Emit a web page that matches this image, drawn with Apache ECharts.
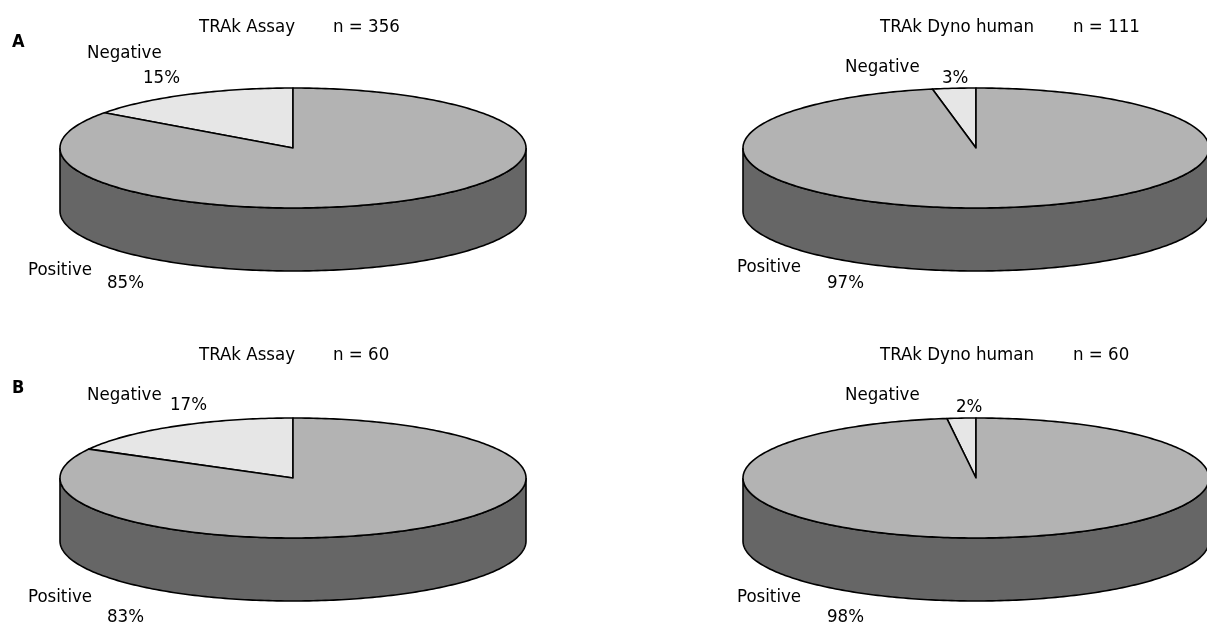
<!DOCTYPE html>
<html>
<head>
<meta charset="utf-8">
<script src="https://cdn.jsdelivr.net/npm/echarts@6/dist/echarts.min.js"></script>
<style>
  html, body { margin: 0; padding: 0; background: #fff; }
  #chart { width: 1207px; height: 626px; }
</style>
</head>
<body>
<div id="chart"></div>
<script>
// values
const panels = ['A', 'B']
const assays = ['TRAk Assay', 'TRAk Dyno human']
const sampleSizes = [356, 111, 60, 60]
const negativePct = [15, 3, 17, 2]
const positivePct = [85, 97, 83, 98]
const sliceNames = ['Negative', 'Positive']

// layout of the four pies (panel row x assay column)
const pieCenter = [[293, 148], [976, 148], [293, 478], [976, 478]]
const RX = 233
const RY = 60
const DEPTH = 63
const sliceColor = ['#e6e6e6', '#b3b3b3']
const sideColor = '#666666'
// label anchors [nameX, nameY, pctX, pctY] per pie and slice
const labelPos = [
  [[87, 53, 143, 78], [28, 270, 107, 283]],
  [[845, 67, 942, 78], [737, 267, 827, 283]],
  [[87, 395, 170, 405], [28, 597, 107, 617]],
  [[845, 395, 956, 407], [737, 597, 827, 617]]
]
const titlePos = [[199, 333, 27], [880, 1073, 27], [199, 333, 355], [880, 1073, 355]]
const FONT = '18.5px "Liberation Sans Narrow", "DejaVu Sans Condensed", sans-serif'
const BOLD = 'bold 18px "Liberation Sans Narrow", "DejaVu Sans Condensed", sans-serif'

const seriesData = []
sampleSizes.forEach((n, p) => {
  seriesData.push([p, 0, negativePct[p]])
  seriesData.push([p, 1, positivePct[p]])
})

function arc(cx, cy, a, b, dy) {
  const pts = []
  const steps = Math.max(2, Math.ceil(Math.abs(b - a)))
  for (let i = 0; i <= steps; i++) {
    const t = (a + (b - a) * i / steps) * Math.PI / 180
    pts.push([cx + RX * Math.cos(t), cy - RY * Math.sin(t) + dy])
  }
  return pts
}

function textEl(str, x, y, font) {
  return {
    type: 'text',
    style: { text: str, x: x, y: y, font: font || FONT, fill: '#000', align: 'left', verticalAlign: 'middle' }
  }
}

function renderItem(params, api) {
  const p = api.value(0)
  const s = api.value(1)
  const values = [negativePct[p], positivePct[p]]
  const total = values[0] + values[1]
  let cum = 0
  for (let i = 0; i < s; i++) cum += values[i]
  const start = 90 + cum / total * 360
  const end = 90 + (cum + values[s]) / total * 360
  const [cx, cy] = pieCenter[p]
  const children = []

  // visible front of the rim
  const a = Math.max(start, 180)
  const b = Math.min(end, 360)
  if (b > a) {
    const upper = arc(cx, cy, a, b, 0)
    const lower = arc(cx, cy, b, a, DEPTH)
    children.push({
      type: 'polygon',
      shape: { points: upper.concat(lower) },
      style: { fill: sideColor, stroke: '#000', lineWidth: 1.6 }
    })
  }
  children.push({
    type: 'polygon',
    shape: { points: [[cx, cy]].concat(arc(cx, cy, start, end, 0)) },
    style: { fill: sliceColor[s], stroke: '#000', lineWidth: 1.6, lineJoin: 'round' }
  })

  const lp = labelPos[p][s]
  children.push(textEl(sliceNames[s], lp[0], lp[1]))
  children.push(textEl(values[s] + '%', lp[2], lp[3]))

  // pie heading, drawn once per pie
  if (s === 0) {
    const tp = titlePos[p]
    children.push(textEl(assays[p % 2], tp[0], tp[2]))
    children.push(textEl('n = ' + sampleSizes[p], tp[1], tp[2]))
    if (p % 2 === 0) {
      children.push(textEl(panels[p / 2], 12, p === 0 ? 42 : 388, BOLD))
    }
  }
  return { type: 'group', children: children }
}

const chart = echarts.init(document.getElementById('chart'))
chart.setOption({
  animation: false,
  backgroundColor: '#fff',
  series: [{
    type: 'custom',
    coordinateSystem: 'none',
    renderItem: renderItem,
    data: seriesData,
    silent: true
  }]
})
</script>
</body>
</html>
